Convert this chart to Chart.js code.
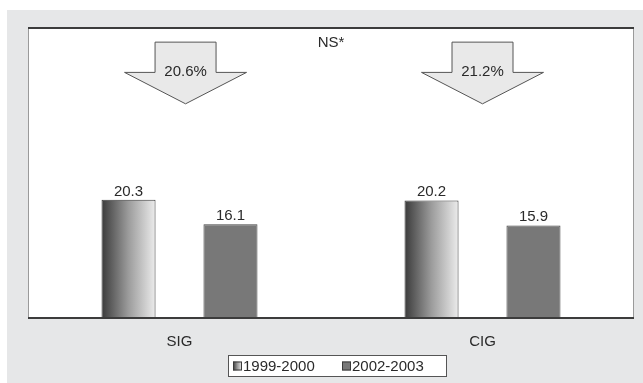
<!DOCTYPE html>
<html>
<head>
<meta charset="utf-8">
<script src="https://cdn.jsdelivr.net/npm/chart.js@4.4.1/dist/chart.umd.min.js"></script>
<style>
  html, body { margin: 0; padding: 0; background: #ffffff; }
  #wrap { position: relative; width: 643px; height: 383px; }
</style>
</head>
<body>
<div id="wrap"><canvas id="chart" width="643" height="383"></canvas></div>
<script>
// Data
const categories = ['SIG', 'CIG'];
const seriesLabels = ['1999-2000', '2002-2003'];
const values19992000 = [20.3, 20.2];
const values20022003 = [16.1, 15.9];
const reductionLabels = ['20.6%', '21.2%'];
const significanceLabel = 'NS*';

const FONT = '"Liberation Sans", Arial, Helvetica, sans-serif';
const PANEL = '#e6e7e8';

function barGradient(ctx, x0, x1) {
  const g = ctx.createLinearGradient(x0, 0, x1, 0);
  g.addColorStop(0, '#3a3a3a');
  g.addColorStop(0.5, '#9c9c9c');
  g.addColorStop(1, '#ececec');
  return g;
}

// Background panel, white plot frame, annotations and the legend
const framePlugin = {
  id: 'framePlugin',
  beforeDraw(chart) {
    const { ctx, chartArea: a } = chart;
    ctx.save();
    ctx.fillStyle = '#ffffff';
    ctx.fillRect(0, 0, chart.width, chart.height);
    ctx.fillStyle = PANEL;
    ctx.fillRect(7, 10, chart.width - 7, chart.height - 10);
    ctx.fillStyle = '#ffffff';
    ctx.fillRect(a.left, a.top, a.right - a.left, a.bottom - a.top);
    ctx.strokeStyle = '#9a9a9a';
    ctx.lineWidth = 1;
    ctx.beginPath();
    ctx.moveTo(a.left + 0.5, a.top);
    ctx.lineTo(a.left + 0.5, a.bottom);
    ctx.moveTo(a.right - 0.5, a.top);
    ctx.lineTo(a.right - 0.5, a.bottom);
    ctx.stroke();
    ctx.restore();
  },
  beforeDatasetsDraw(chart) {
    // horizontal shading on each bar of the first series
    const ctx = chart.ctx;
    chart.getDatasetMeta(0).data.forEach(bar => {
      const x0 = bar.x - bar.width / 2;
      bar.options = Object.assign({}, bar.options, {
        backgroundColor: barGradient(ctx, x0, x0 + bar.width)
      });
    });
  },
  afterDatasetsDraw(chart) {
    const { ctx, chartArea: a, scales } = chart;
    const x = scales.x, y = scales.y;
    ctx.save();
    ctx.fillStyle = '#3c3c3c';
    ctx.fillRect(a.left, a.top, a.right - a.left, 2);
    ctx.fillRect(a.left, a.bottom - 1, a.right - a.left, 2);

    // value labels above bars
    ctx.fillStyle = '#2a2a2a';
    ctx.font = '15px ' + FONT;
    ctx.textAlign = 'center';
    ctx.textBaseline = 'alphabetic';
    chart.data.datasets.forEach((ds, di) => {
      chart.getDatasetMeta(di).data.forEach((bar, i) => {
        ctx.fillText(ds.data[i].toFixed(1), bar.x, bar.y - 4);
      });
    });

    // reduction arrows
    const arrowPos = [0.02, 0];
    reductionLabels.forEach((txt, i) => {
      const cx = x.getPixelForValue(i + arrowPos[i]);
      const top = y.getPixelForValue(47.4);
      const base = y.getPixelForValue(42.2);
      const tip = y.getPixelForValue(36.8);
      const sw = 30.5, hw = 61;
      ctx.beginPath();
      ctx.moveTo(cx - sw, top);
      ctx.lineTo(cx + sw, top);
      ctx.lineTo(cx + sw, base);
      ctx.lineTo(cx + hw, base);
      ctx.lineTo(cx, tip);
      ctx.lineTo(cx - hw, base);
      ctx.lineTo(cx - sw, base);
      ctx.closePath();
      ctx.fillStyle = '#e9e9e9';
      ctx.fill();
      ctx.strokeStyle = '#555555';
      ctx.lineWidth = 1;
      ctx.stroke();
      ctx.fillStyle = '#2a2a2a';
      ctx.font = '15px ' + FONT;
      ctx.textBaseline = 'middle';
      ctx.fillText(txt, cx, base - 1);
    });

    // significance note between groups
    ctx.fillStyle = '#2a2a2a';
    ctx.textBaseline = 'middle';
    ctx.fillText(significanceLabel, x.getPixelForValue(0.5), y.getPixelForValue(47.4) + 1);
    ctx.restore();
  },
  afterDraw(chart) {
    const { ctx } = chart;
    ctx.save();
    const fx = 228, fy = 355, fw = 219, fh = 22;
    ctx.fillStyle = '#ffffff';
    ctx.fillRect(fx, fy, fw, fh);
    ctx.strokeStyle = '#555555';
    ctx.lineWidth = 1;
    ctx.strokeRect(fx + 0.5, fy + 0.5, fw - 1, fh - 1);
    const itemX = [fx + 5, fx + 114];
    const cy = fy + fh / 2;
    chart.data.datasets.forEach((ds, i) => {
      const bx = itemX[i], by = cy - 4.5;
      ctx.fillStyle = i === 0 ? barGradient(ctx, bx, bx + 9) : '#787878';
      ctx.fillRect(bx, by, 9, 9);
      ctx.strokeStyle = '#3a3a3a';
      ctx.strokeRect(bx + 0.5, by + 0.5, 8, 8);
      ctx.fillStyle = '#2a2a2a';
      ctx.font = '15px ' + FONT;
      ctx.textAlign = 'left';
      ctx.textBaseline = 'middle';
      ctx.fillText(ds.label, bx + 10, cy + 0.5);
    });
    ctx.restore();
  }
};

new Chart(document.getElementById('chart'), {
  type: 'bar',
  data: {
    labels: categories,
    datasets: [
      {
        label: seriesLabels[0],
        data: values19992000,
        backgroundColor: '#9c9c9c',
        borderColor: '#3a3a3a',
        borderWidth: 1
      },
      {
        label: seriesLabels[1],
        data: values20022003,
        backgroundColor: '#787878',
        borderColor: '#444444',
        borderWidth: 1
      }
    ]
  },
  options: {
    responsive: false,
    animation: false,
    devicePixelRatio: 1,
    categoryPercentage: 0.673,
    barPercentage: 0.53,
    layout: { padding: { left: 28, top: 27, right: 9, bottom: 17 } },
    plugins: {
      legend: { display: false },
      tooltip: { enabled: false }
    },
    scales: {
      x: {
        grid: { display: false, drawTicks: false },
        border: { display: false },
        ticks: { padding: 15, color: '#2a2a2a', font: { family: FONT, size: 15 } }
      },
      y: {
        display: false,
        min: 0,
        max: 50
      }
    }
  },
  plugins: [framePlugin]
});
</script>
</body>
</html>
